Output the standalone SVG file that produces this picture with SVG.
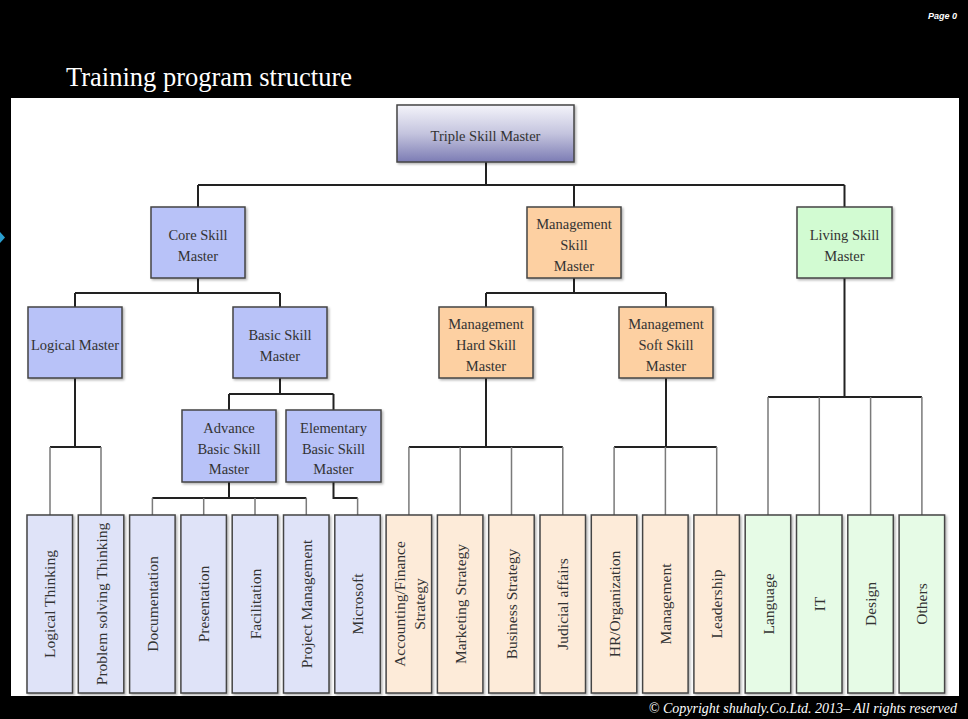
<svg xmlns="http://www.w3.org/2000/svg" width="968" height="719" viewBox="0 0 968 719">
<defs>
<linearGradient id="gTop" x1="0" y1="0" x2="0" y2="1">
<stop offset="0" stop-color="#f4f4fa"/>
<stop offset="0.5" stop-color="#c4c4de"/>
<stop offset="1" stop-color="#7c7cb4"/>
</linearGradient>
<filter id="sh" x="-10%" y="-10%" width="130%" height="130%">
<feDropShadow dx="1.5" dy="1.5" stdDeviation="1.2" flood-color="#000" flood-opacity="0.3"/>
</filter>
</defs>
<style>
.box{stroke:#454545;stroke-width:1.5;filter:url(#sh)}
.blue{fill:#b8c2f8}
.orange{fill:#fdd0a2}
.green{fill:#d2fbd2}
.lblue{fill:#dfe3f8}
.lorange{fill:#fdebd9}
.lgreen{fill:#e6fbe6}
.t{font-family:"Liberation Serif","Times New Roman",serif;font-size:14.5px;fill:#333;text-anchor:middle}
.lt{font-family:"Liberation Serif","Times New Roman",serif;font-size:15.5px;fill:#333;text-anchor:middle}
.trunk{fill:none;stroke:#222;stroke-width:2}
.drop{fill:none;stroke:#7a7a7a;stroke-width:1.5}
</style>
<rect x="0" y="0" width="968" height="719" fill="#000"/>
<rect x="10" y="97" width="950" height="600" fill="#fff" stroke="#000" stroke-width="2"/>
<polygon points="0,232 5,237.5 0,243" fill="#2a9fd0"/>
<text x="66" y="86" font-family="Liberation Serif, serif" font-size="28" fill="#fff" textLength="286" lengthAdjust="spacingAndGlyphs">Training program structure</text>
<text x="957" y="19" font-family="Liberation Sans, sans-serif" font-size="9" font-style="italic" font-weight="bold" fill="#fff" text-anchor="end">Page 0</text>
<text x="957" y="713" font-family="Liberation Serif, serif" font-size="14" font-style="italic" fill="#fff" text-anchor="end">© Copyright shuhaly.Co.Ltd. 2013– All rights reserved</text>

<g id="connectors">
<path class="trunk" d="M486 162V185M198 185H844.5M198 185V207M574 185V207M844.5 185V207"/>
<path class="trunk" d="M198 278V293M75 293H280M75 293V307M280 293V307"/>
<path class="trunk" d="M574 278V293M486 293H666M486 293V307M666 293V307"/>
<path class="trunk" d="M75 378V447M50 447H101"/>
<path class="drop" d="M50 447V515M101 447V515"/>
<path class="trunk" d="M280 378V394M229 394H333.5M229 394V410M333.5 394V410"/>
<path class="trunk" d="M229 482V498M152.4 498H306.3"/>
<path class="drop" d="M152.4 498V515M203.7 498V515M255 498V515M306.3 498V515"/>
<path class="trunk" d="M333.5 482V498H357.6"/>
<path class="drop" d="M357.6 498V515"/>
<path class="trunk" d="M486 378V447M408.9 447H562.8"/>
<path class="drop" d="M408.9 447V515M460.2 447V515M511.5 447V515M562.8 447V515"/>
<path class="trunk" d="M666 378V447M614.1 447H716.7"/>
<path class="drop" d="M614.1 447V515M665.4 447V515M716.7 447V515"/>
<path class="trunk" d="M844.5 278V397M768 397H921.9"/>
<path class="drop" d="M768 397V515M819.3 397V515M870.6 397V515M921.9 397V515"/>
</g>

<g id="triple"><rect class="box" x="397" y="105" width="177" height="57" fill="url(#gTop)"/><text class="t" x="485.5" y="141">Triple Skill Master</text></g>
<g id="core"><rect class="box blue" x="151" y="207" width="94" height="71"/><text class="t" x="198" y="240">Core Skill</text><text class="t" x="198" y="261">Master</text></g>
<g id="mgmt"><rect class="box orange" x="527" y="207" width="94" height="71"/><text class="t" x="574" y="229">Management</text><text class="t" x="574" y="250">Skill</text><text class="t" x="574" y="271">Master</text></g>
<g id="living"><rect class="box green" x="797" y="207" width="95" height="71"/><text class="t" x="844.5" y="240">Living Skill</text><text class="t" x="844.5" y="261">Master</text></g>
<g id="logical"><rect class="box blue" x="28" y="307" width="94" height="71"/><text class="t" x="75" y="350">Logical Master</text></g>
<g id="basic"><rect class="box blue" x="233" y="307" width="94" height="71"/><text class="t" x="280" y="340">Basic Skill</text><text class="t" x="280" y="361">Master</text></g>
<g id="hard"><rect class="box orange" x="439" y="307" width="94" height="71"/><text class="t" x="486" y="329">Management</text><text class="t" x="486" y="350">Hard Skill</text><text class="t" x="486" y="371">Master</text></g>
<g id="soft"><rect class="box orange" x="619" y="307" width="94" height="71"/><text class="t" x="666" y="329">Management</text><text class="t" x="666" y="350">Soft Skill</text><text class="t" x="666" y="371">Master</text></g>
<g id="advance"><rect class="box blue" x="182" y="410" width="94" height="72"/><text class="t" x="229" y="433">Advance</text><text class="t" x="229" y="454">Basic Skill</text><text class="t" x="229" y="474">Master</text></g>
<g id="elementary"><rect class="box blue" x="286" y="410" width="95" height="72"/><text class="t" x="333.5" y="433">Elementary</text><text class="t" x="333.5" y="454">Basic Skill</text><text class="t" x="333.5" y="474">Master</text></g>

<g id="leaf-logical-thinking"><rect class="box lblue" x="27" y="515" width="45.5" height="178"/><text class="lt" transform="translate(49.8 604) rotate(-90)" y="5.5">Logical Thinking</text></g>
<g id="leaf-problem-solving"><rect class="box lblue" x="78.3" y="515" width="45.5" height="178"/><text class="lt" transform="translate(101 604) rotate(-90)" y="5.5">Problem solving Thinking</text></g>
<g id="leaf-documentation"><rect class="box lblue" x="129.6" y="515" width="45.5" height="178"/><text class="lt" transform="translate(152.4 604) rotate(-90)" y="5.5">Documentation</text></g>
<g id="leaf-presentation"><rect class="box lblue" x="180.9" y="515" width="45.5" height="178"/><text class="lt" transform="translate(203.7 604) rotate(-90)" y="5.5">Presentation</text></g>
<g id="leaf-facilitation"><rect class="box lblue" x="232.2" y="515" width="45.5" height="178"/><text class="lt" transform="translate(255 604) rotate(-90)" y="5.5">Facilitation</text></g>
<g id="leaf-project-management"><rect class="box lblue" x="283.5" y="515" width="45.5" height="178"/><text class="lt" transform="translate(306.3 604) rotate(-90)" y="5.5">Project Management</text></g>
<g id="leaf-microsoft"><rect class="box lblue" x="334.8" y="515" width="45.5" height="178"/><text class="lt" transform="translate(357.6 604) rotate(-90)" y="5.5">Microsoft</text></g>
<g id="leaf-accounting"><rect class="box lorange" x="386.1" y="515" width="45.5" height="178"/><text class="lt" transform="translate(408.9 604) rotate(-90)" y="-3.5">Accounting/Finance</text><text class="lt" transform="translate(408.9 604) rotate(-90)" y="16">Strategy</text></g>
<g id="leaf-marketing"><rect class="box lorange" x="437.4" y="515" width="45.5" height="178"/><text class="lt" transform="translate(460.2 604) rotate(-90)" y="5.5">Marketing Strategy</text></g>
<g id="leaf-business"><rect class="box lorange" x="488.7" y="515" width="45.5" height="178"/><text class="lt" transform="translate(511.5 604) rotate(-90)" y="5.5">Business Strategy</text></g>
<g id="leaf-judicial"><rect class="box lorange" x="540" y="515" width="45.5" height="178"/><text class="lt" transform="translate(562.8 604) rotate(-90)" y="5.5">Judicial affairs</text></g>
<g id="leaf-hr"><rect class="box lorange" x="591.3" y="515" width="45.5" height="178"/><text class="lt" transform="translate(614.1 604) rotate(-90)" y="5.5">HR/Organization</text></g>
<g id="leaf-management"><rect class="box lorange" x="642.6" y="515" width="45.5" height="178"/><text class="lt" transform="translate(665.4 604) rotate(-90)" y="5.5">Management</text></g>
<g id="leaf-leadership"><rect class="box lorange" x="693.9" y="515" width="45.5" height="178"/><text class="lt" transform="translate(716.7 604) rotate(-90)" y="5.5">Leadership</text></g>
<g id="leaf-language"><rect class="box lgreen" x="745.2" y="515" width="45.5" height="178"/><text class="lt" transform="translate(768 604) rotate(-90)" y="5.5">Language</text></g>
<g id="leaf-it"><rect class="box lgreen" x="796.5" y="515" width="45.5" height="178"/><text class="lt" transform="translate(819.3 604) rotate(-90)" y="5.5">IT</text></g>
<g id="leaf-design"><rect class="box lgreen" x="847.8" y="515" width="45.5" height="178"/><text class="lt" transform="translate(870.6 604) rotate(-90)" y="5.5">Design</text></g>
<g id="leaf-others"><rect class="box lgreen" x="899.1" y="515" width="45.5" height="178"/><text class="lt" transform="translate(921.9 604) rotate(-90)" y="5.5">Others</text></g>
</svg>
